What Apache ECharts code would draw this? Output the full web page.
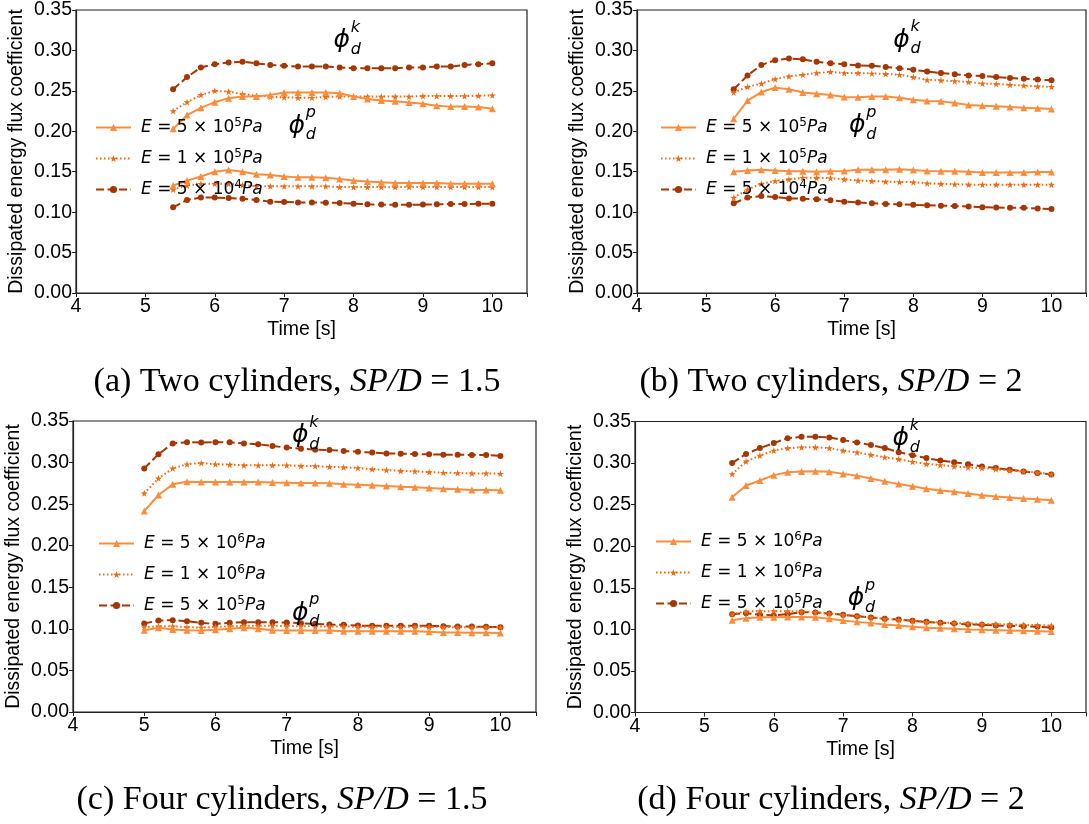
<!DOCTYPE html>
<html>
<head>
<meta charset="utf-8">
<script src="https://cdn.jsdelivr.net/npm/echarts@6/dist/echarts.min.js"></script>
<style>
html,body{margin:0;padding:0;background:#fff;overflow:hidden;}
#chart{width:1089px;height:824px;}
</style>
</head>
<body>
<div id="chart"></div>
<script>
// ---------- data ----------
const timeABD = [5.4,5.6,5.8,6.0,6.2,6.4,6.6,6.8,7.0,7.2,7.4,7.6,7.8,8.0,8.2,8.4,8.6,8.8,9.0,9.2,9.4,9.6,9.8,10.0];
const timeC = [5.0,5.2,5.4,5.6,5.8,6.0,6.2,6.4,6.6,6.8,7.0,7.2,7.4,7.6,7.8,8.0,8.2,8.4,8.6,8.8,9.0,9.2,9.4,9.6,9.8,10.0];
const xTicks = [4,5,6,7,8,9,10];
const yTicks = [0,0.05,0.10,0.15,0.20,0.25,0.30,0.35];

// Panel (a) two cylinders SP/D=1.5
const aSolidK = [0.203,0.220,0.229,0.236,0.241,0.243,0.243,0.245,0.248,0.248,0.248,0.248,0.247,0.243,0.240,0.238,0.237,0.2355,0.234,0.2315,0.2305,0.2305,0.230,0.228];
const aDotK   = [0.225,0.236,0.245,0.250,0.249,0.246,0.244,0.2425,0.242,0.2415,0.2415,0.2425,0.243,0.243,0.243,0.243,0.243,0.243,0.2435,0.2435,0.2435,0.2435,0.244,0.2445];
const aDashK  = [0.252,0.267,0.279,0.283,0.285,0.286,0.284,0.282,0.281,0.280,0.280,0.280,0.279,0.278,0.278,0.278,0.278,0.279,0.279,0.280,0.280,0.282,0.283,0.284];
const aSolidP = [0.133,0.139,0.144,0.150,0.152,0.150,0.147,0.146,0.144,0.143,0.143,0.1425,0.141,0.139,0.138,0.137,0.136,0.136,0.136,0.136,0.135,0.135,0.135,0.135];
const aDotP   = [0.128,0.133,0.135,0.135,0.135,0.1335,0.132,0.132,0.132,0.132,0.132,0.132,0.131,0.131,0.131,0.131,0.131,0.131,0.131,0.131,0.131,0.131,0.131,0.131];
const aDashP  = [0.106,0.115,0.118,0.118,0.1175,0.1165,0.115,0.113,0.1125,0.112,0.112,0.1117,0.1113,0.1105,0.1097,0.1093,0.109,0.109,0.1093,0.1097,0.110,0.110,0.1105,0.1105];

// Panel (b) two cylinders SP/D=2
const bSolidK = [0.2155,0.238,0.2485,0.254,0.252,0.248,0.2465,0.245,0.2425,0.242,0.243,0.243,0.2415,0.239,0.2375,0.237,0.235,0.2325,0.2315,0.231,0.230,0.229,0.2285,0.2275];
const bDotK   = [0.248,0.255,0.259,0.2645,0.268,0.270,0.272,0.2735,0.272,0.272,0.2715,0.271,0.270,0.267,0.2635,0.263,0.262,0.261,0.259,0.2585,0.2575,0.2565,0.2555,0.255];
const bDashK  = [0.252,0.269,0.282,0.288,0.290,0.289,0.286,0.284,0.283,0.2815,0.281,0.2795,0.278,0.276,0.274,0.272,0.2705,0.269,0.2685,0.267,0.266,0.265,0.264,0.263];
const bSolidP = [0.150,0.1515,0.1525,0.1515,0.1505,0.1505,0.150,0.1505,0.151,0.1525,0.1525,0.1525,0.153,0.152,0.151,0.1505,0.1505,0.150,0.149,0.149,0.149,0.149,0.1495,0.1495];
const bDotP   = [0.118,0.128,0.135,0.1385,0.1405,0.1425,0.1425,0.142,0.1405,0.139,0.1385,0.1377,0.1373,0.137,0.1357,0.135,0.1345,0.134,0.134,0.134,0.134,0.134,0.134,0.134];
const bDashP  = [0.111,0.118,0.120,0.1187,0.117,0.1166,0.116,0.1146,0.113,0.112,0.111,0.110,0.1098,0.109,0.1085,0.108,0.1075,0.107,0.106,0.1057,0.1053,0.1053,0.1045,0.104];

// Panel (c) four cylinders SP/D=1.5
const cSolidK = [0.2417,0.261,0.2738,0.277,0.2766,0.2766,0.2766,0.2766,0.2766,0.276,0.2757,0.2754,0.2754,0.275,0.2738,0.2734,0.2726,0.2718,0.271,0.2702,0.2694,0.2686,0.2678,0.267,0.267,0.2666];
const cDotK   = [0.263,0.281,0.293,0.298,0.2995,0.298,0.2975,0.2967,0.2967,0.2967,0.2967,0.296,0.2958,0.295,0.2943,0.2935,0.292,0.291,0.290,0.2895,0.2886,0.2878,0.2875,0.287,0.287,0.2866];
const cDashK  = [0.293,0.310,0.323,0.3245,0.324,0.3245,0.3245,0.323,0.322,0.320,0.318,0.3167,0.3155,0.315,0.314,0.313,0.312,0.311,0.3107,0.3103,0.310,0.3095,0.3095,0.309,0.309,0.308];
const cSolidP = [0.0984,0.1012,0.0992,0.0984,0.098,0.0988,0.100,0.1012,0.100,0.0984,0.098,0.098,0.098,0.098,0.0972,0.0972,0.0972,0.0972,0.0972,0.0972,0.0964,0.0955,0.0955,0.0952,0.0952,0.0951];
const cDotP   = [0.1020,0.1030,0.1030,0.1020,0.1016,0.1024,0.1030,0.1036,0.1036,0.1036,0.1034,0.1032,0.1030,0.1028,0.1028,0.1026,0.1024,0.1024,0.1024,0.1024,0.1024,0.1022,0.1020,0.1020,0.1020,0.1018];
const cDashP  = [0.1064,0.110,0.1104,0.1092,0.1072,0.106,0.1072,0.108,0.108,0.108,0.1076,0.1068,0.106,0.1052,0.1048,0.104,0.1036,0.1036,0.1036,0.1036,0.1036,0.1032,0.1028,0.1028,0.1024,0.102];

// Panel (d) four cylinders SP/D=2
const dSolidK = [0.259,0.273,0.279,0.2855,0.289,0.290,0.2903,0.2895,0.287,0.2847,0.2815,0.278,0.2747,0.272,0.269,0.267,0.2654,0.2634,0.2614,0.2598,0.2586,0.2574,0.2566,0.2554];
const dDotK   = [0.2867,0.302,0.309,0.315,0.318,0.319,0.319,0.318,0.315,0.3128,0.310,0.307,0.3047,0.3015,0.299,0.2975,0.296,0.2947,0.294,0.2927,0.291,0.290,0.2885,0.2867];
const dDashK  = [0.300,0.311,0.318,0.324,0.330,0.3316,0.3316,0.3308,0.3276,0.3248,0.3216,0.318,0.3131,0.3095,0.306,0.303,0.301,0.2987,0.296,0.294,0.292,0.290,0.288,0.2863];
const dSolidP = [0.111,0.1135,0.1147,0.1147,0.115,0.115,0.1147,0.1127,0.1107,0.109,0.1075,0.1058,0.1047,0.103,0.1018,0.1014,0.1006,0.0998,0.0994,0.099,0.0986,0.0982,0.0978,0.0974];
const dDotP   = [0.1183,0.1215,0.1219,0.1219,0.1219,0.1215,0.1207,0.119,0.1175,0.116,0.1143,0.1127,0.1115,0.1103,0.109,0.1083,0.1079,0.107,0.1067,0.1063,0.1058,0.1055,0.105,0.1047];
const dDashP  = [0.1183,0.1195,0.1175,0.1167,0.1183,0.1207,0.1203,0.119,0.1175,0.1159,0.1143,0.1127,0.1119,0.1103,0.109,0.1079,0.107,0.1058,0.1055,0.1047,0.1042,0.1038,0.103,0.1022];

const legendLabelsAB = ['5|5','1|5','5|4'];
const legendLabelsCD = ['5|6','1|6','5|5'];
const captions = ['(a) Two cylinders, ','(b) Two cylinders, ','(c) Four cylinders, ','(d) Four cylinders, '];
const captionValues = ['1.5','2','1.5','2'];

// ---------- styling ----------
const COLORS = ['#fd8d3c','#f16913','#a63603'];
const STAR = 'path://M50,0 L61,35 L98,35 L68,57 L79,91 L50,70 L21,91 L32,57 L2,35 L39,35 Z';
const SYMBOLS = ['triangle', STAR, 'circle'];
const SYMSIZE = [7, 7, 6];
const LTYPE = ['solid', [1.5, 2.5], [8, 3.5]];
const SANS = 'Liberation Sans';

const grids = [
  {left: 76, top: 7, width: 451, height: 286},
  {left: 637, top: 7, width: 455, height: 286},
  {left: 73, top: 421, width: 463, height: 291},
  {left: 635, top: 421.5, width: 457, height: 291}
];
const legendPos = [
  {left: 90, top: 112}, {left: 655, top: 112}, {left: 93, top: 528}, {left: 650, top: 526}
];
const panels = [
  {x: timeABD, k: [aSolidK, aDotK, aDashK], p: [aSolidP, aDotP, aDashP], leg: legendLabelsAB},
  {x: timeABD, k: [bSolidK, bDotK, bDashK], p: [bSolidP, bDotP, bDashP], leg: legendLabelsAB},
  {x: timeC,   k: [cSolidK, cDotK, cDashK], p: [cSolidP, cDotP, cDashP], leg: legendLabelsCD},
  {x: timeABD, k: [dSolidK, dDotK, dDashK], p: [dSolidP, dDotP, dDashP], leg: legendLabelsCD}
];
// phi annotation anchors in data coordinates [x, y] (k then p)
const phiAnchors = [
  [[7.83, 0.312], [7.18, 0.2065]],
  [[7.83, 0.3125], [7.19, 0.207]],
  [[7.19, 0.332], [7.19, 0.119]],
  [[7.83, 0.329], [7.185, 0.137]]
];
const captionCenters = [[297, 382], [831, 382], [282, 800], [831, 800]];

const legendMap = {};
const series = [];
const legends = [];
const xAxes = [], yAxes = [];

panels.forEach((pn, gi) => {
  xAxes.push({
    gridIndex: gi, type: 'value', min: 4, max: 10.5, interval: 1,
    name: 'Time [s]', nameLocation: 'middle', nameGap: 27,
    nameTextStyle: {fontFamily: SANS, fontSize: 19.5, color: '#000'},
    axisLine: {lineStyle: {color: '#222', width: 1.2}},
    axisTick: {length: 4, lineStyle: {color: '#222'}},
    axisLabel: {fontFamily: SANS, fontSize: 19.5, color: '#000', margin: 4,
      formatter: v => (Math.abs(v - Math.round(v)) < 1e-9 && xTicks.indexOf(Math.round(v)) >= 0) ? String(Math.round(v)) : ''},
    splitLine: {show: false}
  });
  yAxes.push({
    gridIndex: gi, type: 'value', min: 0, max: 0.35, interval: 0.05,
    name: 'Dissipated energy flux coefficient', nameLocation: 'middle', nameGap: 49,
    nameTextStyle: {fontFamily: SANS, fontSize: 19.5, color: '#000'},
    axisLine: {lineStyle: {color: '#222', width: 1.2}},
    axisTick: {length: 4, lineStyle: {color: '#222'}},
    axisLabel: {fontFamily: SANS, fontSize: 19.5, color: '#000', margin: 4,
      formatter: v => yTicks.some(t => Math.abs(t - v) < 1e-9) ? v.toFixed(2) : ''},
    splitLine: {show: false}
  });
  const names = [];
  for (let s = 0; s < 3; s++) {
    const nm = 'p' + gi + '_' + s;
    names.push(nm);
    legendMap[nm] = pn.leg[s];
    ['k', 'p'].forEach(comp => {
      const ys = pn[comp][s];
      series.push({
        type: 'line', name: nm, xAxisIndex: gi, yAxisIndex: gi,
        data: pn.x.map((x, i) => [x, ys[i]]),
        symbol: SYMBOLS[s], symbolSize: SYMSIZE[s], showSymbol: true,
        lineStyle: {color: COLORS[s], width: 2, type: LTYPE[s]},
        itemStyle: {color: COLORS[s], borderWidth: 0},
        animation: false, z: 3 - s
      });
    });
  }
  legends.push({
    data: names, orient: 'vertical', left: legendPos[gi].left, top: legendPos[gi].top,
    itemWidth: 35, itemHeight: 9, itemGap: 12,
    formatter: nm => {
      const [m, e] = legendMap[nm].split('|');
      return '{i|E}{t| = ' + m + ' \u00d7 10}{s|' + e + '}{i|Pa}';
    },
    textStyle: {
      fontFamily: 'DejaVu Sans', fontSize: 17, color: '#000', padding: [0, 0, 0, 5],
      rich: {
        i: {fontFamily: 'DejaVu Sans', fontStyle: 'italic', fontSize: 17, color: '#000'},
        t: {fontFamily: 'DejaVu Sans', fontSize: 17, color: '#000'},
        s: {fontFamily: 'DejaVu Sans', fontSize: 12, color: '#000', padding: [0, 0, 9, 0]}
      }
    },
    selectedMode: false
  });
});

const chart = echarts.init(document.getElementById('chart'), null, {renderer: 'canvas'});
chart.setOption({
  backgroundColor: '#fff',
  animation: false,
  grid: grids.map(g => Object.assign({show: true, borderColor: '#222', borderWidth: 1.2, backgroundColor: 'transparent', containLabel: false}, g)),
  xAxis: xAxes,
  yAxis: yAxes,
  legend: legends,
  series: series
});

// annotations (phi labels and captions)
const graphics = [];
phiAnchors.forEach((pair, gi) => {
  pair.forEach((pt, j) => {
    const px = chart.convertToPixel({gridIndex: gi}, pt);
    const supTxt = j === 0 ? 'k' : 'p';
    graphics.push({type: 'text', x: px[0], y: px[1], z: 10,
      style: {text: '\u03d5', font: 'italic 25px "DejaVu Sans"', fill: '#000', align: 'center', verticalAlign: 'middle'}});
    graphics.push({type: 'text', x: px[0] + 9, y: px[1] - 5, z: 10,
      style: {text: supTxt, font: 'italic 16px "DejaVu Sans"', fill: '#000', align: 'left', verticalAlign: 'bottom'}});
    graphics.push({type: 'text', x: px[0] + 9, y: px[1] + 1, z: 10,
      style: {text: 'd', font: 'italic 16px "DejaVu Sans"', fill: '#000', align: 'left', verticalAlign: 'top'}});
  });
});
captions.forEach((c, i) => {
  graphics.push({type: 'text', x: captionCenters[i][0], y: captionCenters[i][1], z: 10,
    style: {
      text: '{r|' + c + '}{i|SP/D}{r| = ' + captionValues[i] + '}',
      align: 'center', verticalAlign: 'middle',
      rich: {
        r: {fontFamily: 'Liberation Serif', fontSize: 34, fill: '#000'},
        i: {fontFamily: 'Liberation Serif', fontStyle: 'italic', fontSize: 34, fill: '#000'}
      }
    }});
});
chart.setOption({graphic: graphics});
</script>
</body>
</html>
